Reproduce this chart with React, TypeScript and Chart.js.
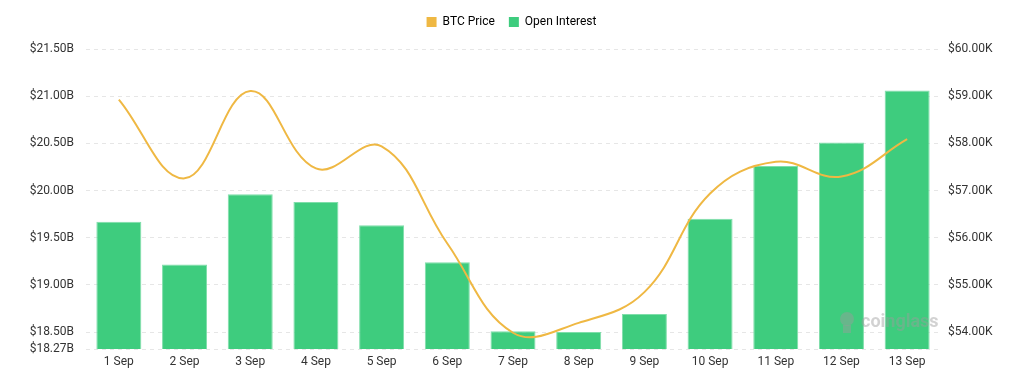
import React, { useEffect, useRef } from "react";
import { Chart, registerables } from "chart.js";

Chart.register(...registerables);

const categories = ["1 Sep", "2 Sep", "3 Sep", "4 Sep", "5 Sep", "6 Sep", "7 Sep", "8 Sep", "9 Sep", "10 Sep", "11 Sep", "12 Sep", "13 Sep"];
// Open Interest in billions USD
const openInterest = [19.67, 19.215, 19.96, 19.877, 19.633, 19.24, 18.507, 18.5, 18.69, 19.7, 20.26, 20.51, 21.06];
// BTC price in thousands USD
const btcPrice = [58.93, 57.26, 59.11, 57.47, 57.94, 55.88, 53.99, 54.2, 54.85, 56.94, 57.61, 57.3, 58.09];

const oiTicks = [18.5, 19, 19.5, 20, 20.5, 21, 21.5];
const oiAxisMin = 18.32;
const oiAxisMinLabel = "$18.27B";
const priceTicks = [54, 55, 56, 57, 58, 59, 60];
const priceAxisMin = 53.646;

const GREEN = "#3ECC7E";
const ORANGE = "#EFB843";

const legendHeightPlugin = {
  id: "legendHeight",
  beforeLayout(chart: any) {
    const lg = chart.legend;
    if (lg && !lg._fixedHeight) {
      const orig = lg.fit.bind(lg);
      lg.fit = function () {
        orig();
        this.height = 47;
      };
      lg._fixedHeight = true;
    }
  },
};

const watermarkPlugin = {
  id: "watermark",
  afterDatasetsDraw(chart: any) {
    const { ctx, chartArea } = chart;
    ctx.save();
    ctx.globalAlpha = 0.45;
    ctx.fillStyle = "#9c9c9c";
    const x = chartArea.right - 79;
    const y = chartArea.bottom - 27;
    ctx.beginPath();
    ctx.arc(x - 14, y - 3, 7, 0, Math.PI * 2);
    ctx.fill();
    ctx.fillRect(x - 18, y + 3, 8, 8);
    ctx.font = "bold 18px Roboto";
    ctx.textBaseline = "middle";
    ctx.textAlign = "left";
    ctx.fillText("coinglass", x, y);
    ctx.restore();
  },
};

export default function App() {
  const ref = useRef<HTMLCanvasElement | null>(null);

  useEffect(() => {
    if (!ref.current) return;
    Chart.defaults.font.family = "Roboto";
    Chart.defaults.color = "#333";
    const chart = new Chart(ref.current, {
      data: {
        labels: categories,
        datasets: [
          {
            type: "line",
            label: "BTC Price",
            data: btcPrice,
            yAxisID: "yPrice",
            borderColor: ORANGE,
            backgroundColor: ORANGE,
            borderWidth: 2,
            pointRadius: 0,
            tension: 0.4,
          },
          {
            type: "bar",
            label: "Open Interest",
            data: openInterest,
            yAxisID: "yOI",
            backgroundColor: GREEN,
            borderColor: "#7fdeaa",
            borderWidth: 1,
            barPercentage: 1,
            categoryPercentage: 0.685,
          },
        ],
      },
      options: {
        animation: false,
        responsive: true,
        maintainAspectRatio: false,
        layout: { padding: { top: 2, bottom: 0, left: 0, right: 0 } },
        plugins: {
          legend: {
            position: "top",
            labels: {
              boxWidth: 10,
              boxHeight: 10,
              padding: 14,
              font: { size: 12 },
              color: "#333",
              generateLabels: (c: any) =>
                c.data.datasets.map((d: any, i: number) => ({
                  text: d.label,
                  fillStyle: d.backgroundColor,
                  strokeStyle: d.backgroundColor,
                  lineWidth: 0,
                  datasetIndex: i,
                  hidden: !c.isDatasetVisible(i),
                })),
            },
          },
          tooltip: { enabled: false },
        },
        scales: {
          x: {
            grid: { display: false, drawTicks: false },
            border: { display: false },
            ticks: { padding: 6, font: { size: 12 }, color: "#333" },
            afterFit: (s: any) => {
              s.height = 25;
            },
          },
          yOI: {
            position: "left",
            min: oiAxisMin,
            max: 21.5,
            border: { display: false, dash: [4, 4] },
            grid: { color: "#e6e6e6", drawTicks: false, lineWidth: 1 },
            ticks: {
              padding: 12,
              font: { size: 12 },
              color: "#333",
              callback: (v: any) => (v === oiAxisMin ? oiAxisMinLabel : "$" + Number(v).toFixed(2) + "B"),
            },
            afterBuildTicks: (s: any) => {
              s.ticks = [oiAxisMin, ...oiTicks].map((v) => ({ value: v }));
            },
            afterFit: (s: any) => {
              s.width = 86;
            },
          },
          yPrice: {
            position: "right",
            min: priceAxisMin,
            max: 60,
            border: { display: false },
            grid: { display: false, drawTicks: false },
            ticks: {
              padding: 8,
              font: { size: 12 },
              color: "#333",
              callback: (v: any) => "$" + Number(v).toFixed(2) + "K",
            },
            afterBuildTicks: (s: any) => {
              s.ticks = priceTicks.map((v) => ({ value: v }));
            },
            afterFit: (s: any) => {
              s.width = 83;
            },
          },
        },
      },
      plugins: [legendHeightPlugin, watermarkPlugin],
    } as any);
    return () => chart.destroy();
  }, []);

  return (
    <div style={{ position: "fixed", left: 0, top: 0, width: 1023, height: 374, background: "#fff" }}>
      <canvas ref={ref} />
    </div>
  );
}
